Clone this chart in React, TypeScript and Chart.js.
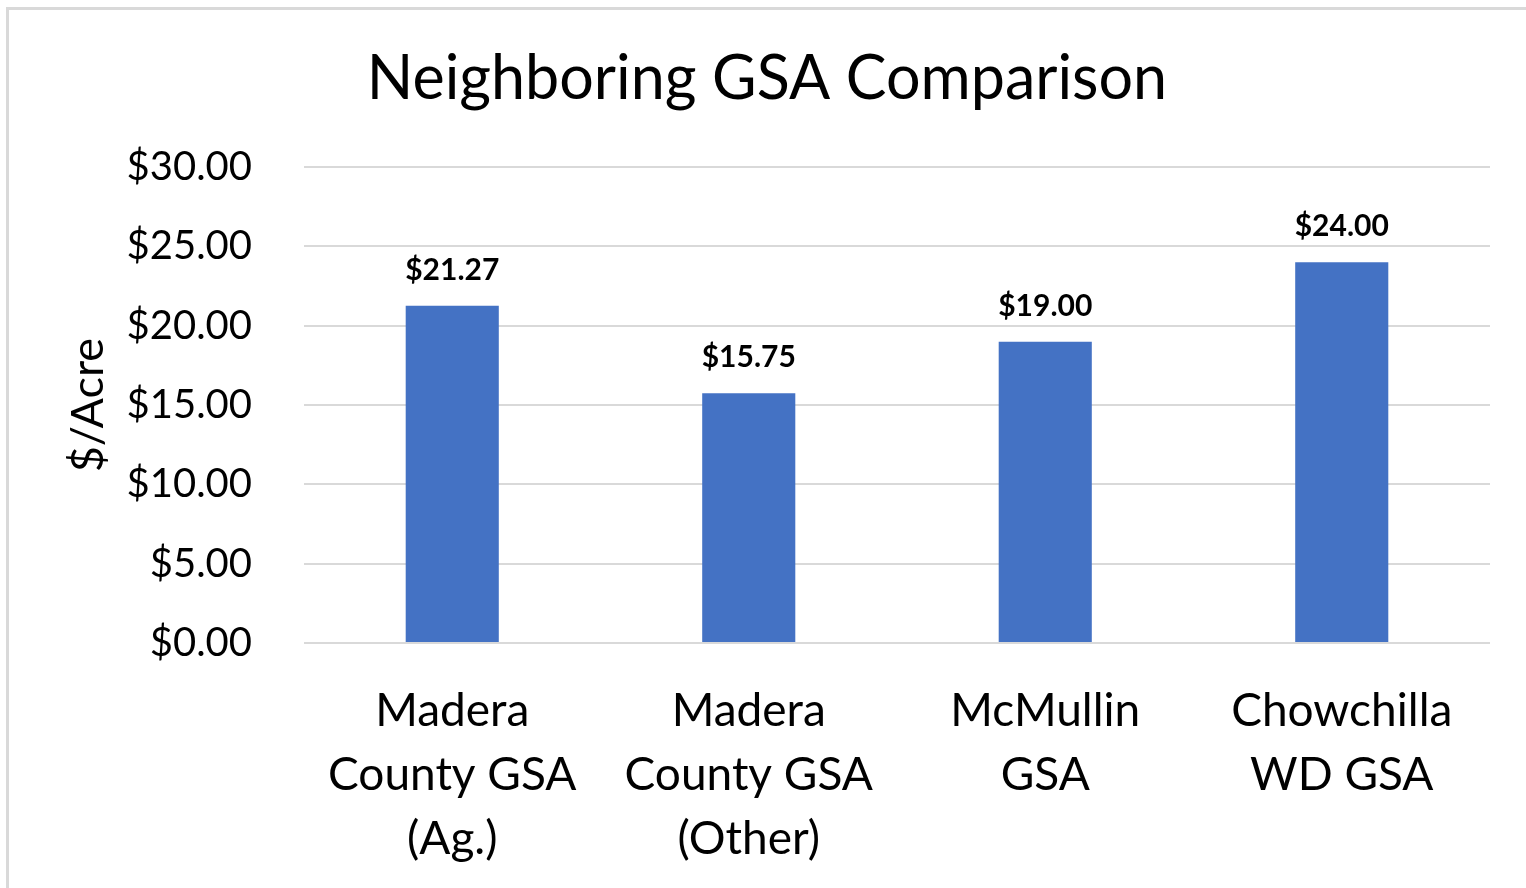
import React, { useEffect, useRef } from "react";
import { Chart, registerables } from "chart.js";

Chart.register(...registerables);

const categories: string[][] = [
  ["Madera", "County GSA", "(Ag.)"],
  ["Madera", "County GSA", "(Other)"],
  ["McMullin", "GSA"],
  ["Chowchilla", "WD GSA"],
];
const values: number[] = [21.27, 15.75, 19.0, 24.0];
const yTicks: number[] = [0, 5, 10, 15, 20, 25, 30];

const FONT = "Lato, 'Open Sans', sans-serif";

const fmt = (v: number) => "$" + v.toFixed(2);

const dataLabels = {
  id: "dataLabels",
  afterDatasetsDraw(chart: any) {
    const ctx = chart.ctx;
    const meta = chart.getDatasetMeta(0);
    ctx.save();
    ctx.font = `bold 30px ${FONT}`;
    ctx.fillStyle = "#000000";
    ctx.textAlign = "center";
    ctx.textBaseline = "alphabetic";
    meta.data.forEach((bar: any, i: number) => {
      ctx.fillText(fmt(values[i]), bar.x, bar.y - 26);
    });
    ctx.restore();
  },
};

export default function App() {
  const ref = useRef<HTMLCanvasElement | null>(null);

  useEffect(() => {
    document.body.style.margin = "0";
    if (!ref.current) return;
    const chart = new Chart(ref.current, {
      type: "bar",
      data: {
        labels: categories,
        datasets: [
          {
            data: values,
            backgroundColor: "#4472C4",
            borderWidth: 0,
            barPercentage: 0.314,
            categoryPercentage: 1,
          },
        ],
      },
      options: {
        responsive: false,
        animation: false,
        devicePixelRatio: 1,
        layout: { padding: { left: 44, right: 36, top: 0, bottom: 0 } },
        plugins: {
          legend: { display: false },
          tooltip: { enabled: false },
          title: {
            display: true,
            text: "Neighboring GSA Comparison",
            color: "#000000",
            font: { family: FONT, size: 61, weight: "normal", lineHeight: 1.2 },
            padding: { top: 43, bottom: 51 },
          },
        },
        scales: {
          x: {
            grid: { display: false, drawTicks: false },
            border: { display: false },
            ticks: {
              color: "#000000",
              padding: 36,
              font: { family: FONT, size: 46, lineHeight: 1.39 },
              maxRotation: 0,
              autoSkip: false,
            },
            afterFit(scale: any) {
              scale.height = 245;
            },
          },
          y: {
            min: 0,
            max: 30,
            afterBuildTicks(scale: any) {
              scale.ticks = yTicks.map((v) => ({ value: v }));
            },
            grid: { color: "#d9d9d9", lineWidth: 2, drawTicks: false },
            border: { display: false },
            ticks: {
              color: "#000000",
              padding: 52,
              font: { family: FONT, size: 40 },
              callback: (v: any) => fmt(Number(v)),
            },
            title: {
              display: true,
              text: "$/Acre",
              color: "#000000",
              font: { family: FONT, size: 45, lineHeight: 1.2 },
              padding: { top: 17, bottom: 0 },
            },
            afterFit(scale: any) {
              scale.width = 260;
            },
          },
        },
      },
      plugins: [dataLabels],
    });
    return () => chart.destroy();
  }, []);

  return (
    <div style={{ position: "relative", width: 1526, height: 888, background: "#ffffff", overflow: "hidden" }}>
      <canvas ref={ref} width={1526} height={888} style={{ display: "block" }} />
      <div
        style={{
          position: "absolute",
          left: 6,
          top: 7,
          width: 1540,
          height: 900,
          borderLeft: "3px solid #d9d9d9",
          borderTop: "3px solid #d9d9d9",
          pointerEvents: "none",
        }}
      />
    </div>
  );
}
